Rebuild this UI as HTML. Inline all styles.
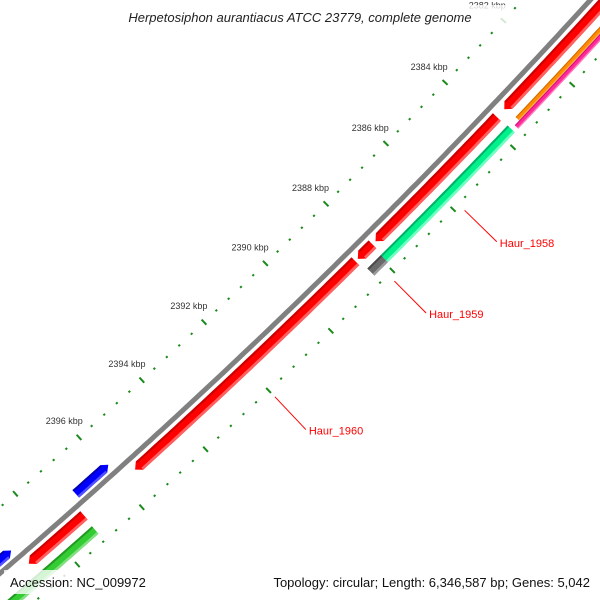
<!DOCTYPE html>
<html><head><meta charset="utf-8"><style>
html,body{margin:0;padding:0;background:#fff;width:600px;height:600px;overflow:hidden;}
svg{display:block;overflow:hidden;font-family:"Liberation Sans","DejaVu Sans",sans-serif;}
</style></head><body>
<svg id="map" width="600" height="600" viewBox="0 0 600 600" xmlns="http://www.w3.org/2000/svg">
<rect width="600" height="600" fill="#fff"/>
<g id="ticks"></g>
<g id="backbone-g"></g>
<g id="genes"></g>
<g id="labels"></g>
<rect x="90" y="5" width="420" height="24" fill="#fff" fill-opacity="0.8"/>
<text x="300" y="22" text-anchor="middle" font-size="13" font-style="italic" fill="#222">Herpetosiphon aurantiacus ATCC 23779, complete genome</text>
<rect x="4" y="570" width="148" height="24" fill="#fff" fill-opacity="0.8"/>
<text x="10" y="587" font-size="13" fill="#111">Accession: NC_009972</text>
<rect x="256" y="570" width="340" height="24" fill="#fff" fill-opacity="0.8"/>
<text x="590" y="587" text-anchor="end" font-size="13" fill="#111">Topology: circular; Length: 6,346,587 bp; Genes: 5,042</text>
</svg>
<script>
// ---- data ----
const tickStartKbp = 2378;
const tickEndKbp = 2403;
const tickStepKbp = 0.4;
const labelKbp = [2382, 2384, 2386, 2388, 2390, 2392, 2394, 2396];
const geneNames = ["gene-a","gene-b","Haur_1959","Haur_1960","Haur_1958","orange-gene","magenta-gene","gray-gene","blue-gene","red-gene-ll","green-gene-ll","blue-gene-ll"];
const geneStart = [2379.0, 2383.75, 2387.90, 2388.46, 2383.72, 2379.0, 2379.0, 2387.94, 2395.92, 2397.13, 2397.16, 2398.95];
const geneEnd   = [2383.50, 2387.80, 2388.38, 2395.53, 2387.94, 2383.45, 2383.60, 2388.38, 2396.94, 2398.84, 2400.5, 2401.5];
const geneTrack = ["fwd","fwd","fwd","fwd","outer","outerA","outerB","outer","rev","fwd","outer","rev"];
const geneColorKey = ["red","red","red","red","teal","orange","magenta","gray","blue","red","green","blue"];
const labeledGenes = ["Haur_1958","Haur_1959","Haur_1960"];

// ---- geometry ----
const CX = -4401, CY = -4548.6, R = 6753;
const A0 = 43.70, DEG_PER_KBP = 0.3633;
function ang(kbp){ return A0 + (kbp - 2384) * DEG_PER_KBP; }
function pt(r, deg){ const a = deg*Math.PI/180; return [CX + r*Math.cos(a), CY + r*Math.sin(a)]; }
const NS = "http://www.w3.org/2000/svg";
function mk(tag, attrs, parent){ const e = document.createElementNS(NS, tag); for (const k in attrs) e.setAttribute(k, attrs[k]); parent.appendChild(e); return e; }
const tracks = { fwd:[6,17], outer:[25,35], outerA:[25,30], outerB:[30,35], rev:[-15,-5] };
const colors = {
  red:["#ff0000","#cc0000","#ff6060"], teal:["#00f08c","#00b066","#70ffc0"],
  orange:["#ff8c00","#d06800","#ffb050"], magenta:["#ff2a9a","#d0107a","#ff80c0"],
  gray:["#6a6a6a","#4a4a4a","#999999"], green:["#33cc33","#229922","#80e080"],
  blue:["#0000ff","#0000b0","#5050ff"]
};

function arcPts(r, a1, a2){ const n = Math.max(2, Math.ceil(Math.abs(a2-a1)/0.05)); const out=[]; for(let i=0;i<=n;i++){ out.push(pt(r, a1+(a2-a1)*i/n)); } return out; }
function shapePath(r1, r2, a1, a2, tip){
  const h = 6/ (R) * 180/Math.PI; let pts=[];
  const rm=(r1+r2)/2;
  if (tip === "end"){ const e=a2-h; pts = arcPts(r1,a1,e).concat([pt(rm,a2)], arcPts(r2,e,a1)); }
  else if (tip === "start"){ const s=a1+h; pts = [pt(rm,a1)].concat(arcPts(r1,s,a2), arcPts(r2,a2,s)); }
  else { pts = arcPts(r1,a1,a2).concat(arcPts(r2,a2,a1)); }
  return "M"+pts.map(p=>p[0].toFixed(1)+","+p[1].toFixed(1)).join("L")+"Z";
}

// ---- ticks ----
const tg = document.getElementById("ticks");
const nT = Math.round((tickEndKbp - tickStartKbp)/tickStepKbp);
for (let i=0;i<=nT;i++){
  const k = tickStartKbp + i*tickStepKbp;
  const major = Math.abs(k/2 - Math.round(k/2)) < 1e-6;
  const a = ang(k);
  [[-50],[44]].forEach(([off])=>{
    const len = major ? 3.5 : 1;
    const p1 = pt(R+off-len, a), p2 = pt(R+off+len, a);
    const l = mk("line",{x1:p1[0],y1:p1[1],x2:p2[0],y2:p2[1],stroke:"#1a8a1a","stroke-width":major?2:2.2},tg);
    
    
  });
}
labelKbp.forEach(k=>{
  const p = pt(R-72, ang(k));
  const t = mk("text",{x:p[0],y:p[1]+3,"text-anchor":"middle","font-size":"9",fill:"#333"},tg);
  t.textContent = k + " kbp";
  
  
});

// ---- backbone ----
const bg = document.getElementById("backbone-g");
const bb = arcPts(R, ang(2377), ang(2404));
const bd = "M"+bb.map(p=>p[0].toFixed(1)+","+p[1].toFixed(1)).join("L");
const b1 = mk("path",{d:bd,fill:"none",stroke:"#808080","stroke-width":5},bg);



// ---- genes ----
const gg = document.getElementById("genes");
geneNames.forEach((name,i)=>{
  const tr = tracks[geneTrack[i]];
  const c = colors[geneColorKey[i]];
  const a1 = ang(geneStart[i]), a2 = ang(geneEnd[i]);
  let tip = "none";
  if (geneColorKey[i]==="red") tip="end";
  if (geneColorKey[i]==="blue") tip="start";
  const g = mk("g",{},gg);
  
  
  const r1=R+tr[0], r2=R+tr[1];
  mk("path",{d:shapePath(r1,r2,a1,a2,tip),fill:c[0]},g);
  const h = 6/R*180/Math.PI;
  const s = tip==="start"? a1+h : a1, e = tip==="end"? a2-h : a2;
  const th=(r2-r1);
  mk("path",{d:shapePath(r1,r1+th*0.2,s,e,"none"),fill:c[1]},g);
  mk("path",{d:shapePath(r2-th*0.25,r2,s,e,"none"),fill:c[2]},g);
});

// ---- gene labels ----
const lg = document.getElementById("labels");
labeledGenes.forEach(n=>{
  const i = geneNames.indexOf(n);
  const a = ang((geneStart[i]+geneEnd[i])/2);
  const p1 = pt(R+53,a), p2 = pt(R+98,a);
  const l = mk("line",{x1:p1[0],y1:p1[1],x2:p2[0],y2:p2[1],stroke:"#ff0000","stroke-width":1},lg);
  
  
  const t = mk("text",{x:p2[0]+3,y:p2[1]+5,"font-size":"11",fill:"#ff0000"},lg);
  t.textContent = n;
  
  
});
</script>
</body></html>
